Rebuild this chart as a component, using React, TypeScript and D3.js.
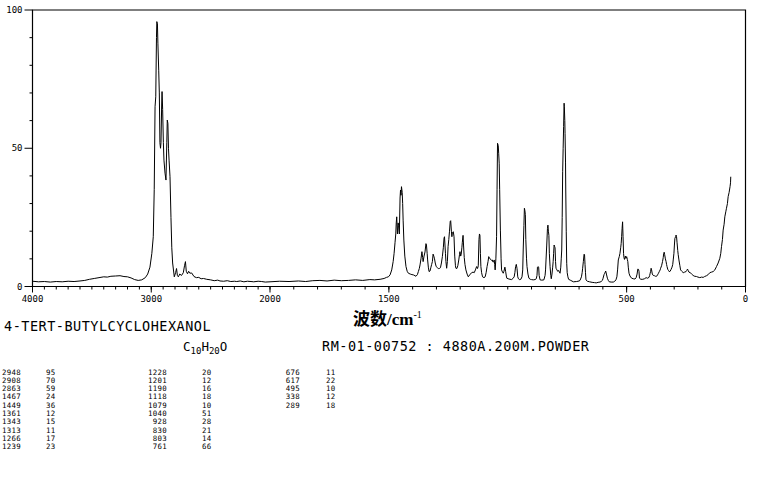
import React from 'react';
import * as d3 from 'd3';

// Spectrum trace (wavenumber cm-1, relative intensity)
const wavenumbers = [
  4000, 3950, 3900, 3850, 3800, 3750, 3700, 3650, 3600, 3560, 3520, 3480, 3440, 3400, 3370, 3340, 3300, 3263, 3230, 3200,
  3170, 3140, 3110, 3080, 3050, 3030, 3011, 2995, 2983, 2975, 2968, 2962, 2956, 2953, 2948, 2944, 2937, 2932, 2927, 2922,
  2918, 2912, 2909, 2904, 2898, 2893, 2884, 2876, 2869, 2865, 2860, 2855, 2850, 2842, 2834, 2827, 2820, 2806, 2795, 2787,
  2780, 2772, 2760, 2745, 2730, 2720, 2712, 2705, 2695, 2685, 2675, 2660, 2640, 2620, 2600, 2580, 2560, 2533, 2500, 2470,
  2440, 2421, 2390, 2360, 2330, 2300, 2280, 2250, 2220, 2190, 2160, 2137, 2100, 2070, 2040, 2000, 1960, 1920, 1880, 1850,
  1820, 1790, 1760, 1730, 1700, 1670, 1640, 1610, 1580, 1560, 1537, 1520, 1510, 1502, 1495, 1488, 1482, 1478, 1474, 1471,
  1469, 1467, 1464, 1461, 1459, 1456, 1453, 1451, 1449, 1447, 1444, 1442, 1440, 1437, 1433, 1428, 1423, 1418, 1410, 1403,
  1397, 1390, 1386, 1380, 1376, 1372, 1369, 1365, 1361, 1358, 1356, 1352, 1348, 1344, 1342, 1339, 1337, 1334, 1331, 1327,
  1323, 1320, 1317, 1314, 1311, 1308, 1305, 1301, 1296, 1292, 1288, 1283, 1279, 1275, 1271, 1268, 1266, 1264, 1262, 1260,
  1257, 1254, 1251, 1248, 1245, 1242, 1240, 1237, 1235, 1233, 1229, 1226, 1223, 1220, 1218, 1214, 1210, 1206, 1203, 1201,
  1198, 1196, 1193, 1191, 1188, 1186, 1183, 1180, 1176, 1171, 1166, 1160, 1152, 1146, 1141, 1136, 1131, 1127, 1124, 1121,
  1119, 1117, 1115, 1113, 1110, 1106, 1100, 1095, 1091, 1087, 1083, 1080, 1077, 1073, 1069, 1065, 1062, 1059, 1057, 1055,
  1053, 1050, 1047, 1045, 1043, 1040, 1038, 1036, 1034, 1031, 1028, 1026, 1022, 1019, 1016, 1012, 1009, 1006, 1004, 995,
  984, 978, 973, 970, 967, 964, 961, 958, 955, 951, 945, 940, 937, 935, 932, 930, 928, 926, 924, 921,
  919, 915, 911, 905, 900, 893, 885, 880, 877, 875, 873, 870, 868, 864, 857, 848, 843, 841, 839, 836,
  833, 831, 829, 827, 825, 822, 819, 817, 814, 811, 809, 807, 805, 803, 801, 799, 797, 793, 790, 786,
  783, 780, 777, 775, 773, 771, 769, 767, 765, 763, 762, 760, 759, 757, 756, 754, 752, 750, 747, 744,
  735, 724, 710, 700, 696, 690, 687, 685, 682, 679, 677, 675, 673, 671, 665, 656, 645, 635, 628, 620,
  612, 607, 602, 599, 595, 592, 588, 585, 581, 577, 573, 565, 556, 550, 545, 541, 538, 535, 531, 528,
  525, 523, 521, 519, 517, 515, 513, 511, 509, 507, 505, 503, 500, 497, 495, 493, 490, 486, 479, 472,
  465, 460, 456, 453, 450, 448, 446, 440, 432, 425, 418, 412, 406, 403, 401, 399, 397, 395, 392, 388,
  383, 379, 374, 370, 366, 362, 359, 357, 353, 349, 346, 344, 342, 340, 337, 334, 332, 330, 327, 324,
  321, 317, 313, 309, 306, 304, 301, 299, 297, 294, 292, 290, 288, 285, 283, 280, 276, 273, 268, 262,
  256, 250, 247, 244, 241, 238, 233, 227, 222, 218, 213, 206, 200, 195, 192, 185, 178, 172, 164, 157,
  150, 143, 136, 129, 122, 115, 108, 104, 101, 97, 94, 90, 87, 83, 80, 76, 73, 69, 65, 63,
  62,
];
const intensities = [
  1.9, 1.7, 1.8, 1.6, 1.8, 1.7, 1.9, 1.8, 2.0, 2.2, 2.6, 2.9, 3.2, 3.5, 3.4, 3.7, 3.8, 3.9, 3.6, 3.5,
  3.1, 2.5, 2.2, 2.4, 3.2, 4.5, 7, 12, 18, 35, 65, 68.6, 90, 95.8, 95, 88, 78, 70, 52, 50,
  52, 66, 70.5, 64, 52, 45.7, 41, 38.5, 52, 60.2, 59, 50, 45.7, 39.7, 25, 14, 8.5, 3.5, 5, 6.5,
  4, 3.5, 4.5, 4, 5, 7.5, 9, 5.5, 4.6, 5.5, 4.8, 4.9, 3.6, 3.2, 3.3, 2.8, 2.9, 2.6, 2.4, 2.1,
  2.3, 2.0, 1.9, 2.1, 1.8, 1.9, 1.8, 2.0, 1.7, 1.9, 1.8, 1.7, 1.9, 1.8, 1.6, 1.7, 1.9, 1.8, 2.0, 1.8,
  2.1, 2.2, 2.0, 2.3, 2.1, 2.2, 2.4, 2.2, 2.5, 2.4, 2.6, 2.9, 3.3, 3.5, 4.2, 6, 9, 12, 16, 19,
  23, 25.2, 19, 23, 22, 19, 32, 34.9, 33, 36.1, 34, 30, 24, 16.8, 11, 7.2, 5.5, 4.8, 4.5, 4.3,
  4.2, 3.9, 3.7, 4.3, 5.4, 6.5, 7.8, 10, 12.6, 10.5, 9, 11, 12.5, 15.5, 15, 12, 9.6, 7, 5.4, 5.6,
  7, 8, 9, 11.7, 11, 10, 8.5, 7.2, 6.8, 6.5, 6.5, 6.8, 8.5, 10.8, 14, 17.5, 18, 15, 12, 9,
  6.6, 9, 14.4, 17, 20, 23.5, 23.8, 20, 18, 19.5, 19.8, 18, 11, 7.5, 6.6, 6.5, 7.5, 9.6, 11.5, 12.6,
  11, 11.5, 14, 16, 18.5, 15, 10.5, 8, 6, 4.5, 3.5, 4.2, 5, 5.2, 5, 6, 7.2, 6.5, 7.5, 17,
  19, 18.5, 12, 7.2, 5, 3.5, 3.2, 3.5, 5, 7.2, 9, 10.8, 10.4, 9.8, 9.5, 9.6, 8.8, 9, 9.6, 8,
  6, 10, 18, 35, 51.8, 51, 48, 44.6, 35, 20.4, 10, 6, 5.2, 4.8, 5.5, 7, 5.5, 3.8, 3, 2.7,
  2.5, 2.9, 3.5, 5, 7.2, 8, 6.5, 3.5, 2.8, 2.5, 2.6, 3.5, 6, 13.2, 22, 28.3, 27.5, 26, 17, 10,
  7.2, 4.5, 3, 2.6, 2.5, 2.4, 2.5, 2.8, 4, 7, 7.2, 7, 4, 2.4, 2.3, 2.4, 4, 6, 9.6, 15,
  21, 22.2, 20, 18.5, 12, 7.2, 4, 2.8, 4.5, 7, 9, 12, 15, 14.5, 14, 9, 6.6, 6, 5.5, 5.8,
  5.2, 4.8, 7, 10, 13.2, 25, 41.5, 50, 57.8, 66.3, 65, 60, 55.4, 45, 34.9, 20, 8.4, 5, 3.5, 2.6,
  2.2, 1.7, 1.8, 2.0, 2.2, 3.5, 5, 6.6, 9, 11.7, 11.5, 8, 5, 2.4, 1.9, 1.7, 1.5, 1.4, 1.3, 1.5,
  1.6, 1.8, 2.2, 3, 4.3, 4.8, 5.6, 4.5, 3, 2.2, 1.7, 1.6, 1.6, 1.9, 2.4, 3.5, 6, 9.6, 10.8, 12,
  14, 15.5, 18, 21, 23.4, 18, 12, 10.4, 9.8, 10.5, 11, 10.2, 10.8, 9.8, 9, 7, 4.8, 3.8, 3, 2.8,
  2.7, 3.2, 4.5, 6.3, 6.2, 5.5, 3, 2.6, 2.6, 2.8, 3.2, 3, 3.3, 4, 4.8, 5.5, 6.6, 6, 4.5, 4,
  3.9, 3.7, 3.7, 4.2, 4.8, 5.5, 6, 6.6, 7.5, 9, 10.5, 12, 12.4, 11.5, 10, 9, 8, 7.2, 6.2, 5.8,
  5.4, 5.5, 6.2, 7, 8, 9.6, 12, 15, 17.4, 18, 18.6, 18, 16, 13, 11.5, 9.6, 7.5, 6, 5.5, 5,
  5.2, 5.4, 5.8, 6.3, 5.8, 5.2, 5, 4.6, 4.2, 3.8, 3.7, 3.6, 3.4, 3.3, 3.2, 3.4, 3.3, 3.6, 3.9, 4.3,
  5, 5.2, 5.4, 6, 7.2, 8.5, 10.2, 12, 14.4, 17, 20.4, 22.5, 25.2, 27, 28.3, 30, 32.5, 34, 36.1, 37.5,
  39.7,
];

// Axis ticks
const yMinorTicks = [0, 10, 20, 30, 40, 50, 60, 70, 80, 90, 100];
const yLabelTicks = [0, 50, 100];
const xMajorTicks = [4000, 3000, 2000, 1500, 500, 0];
const xMinorTicks = [
  4000, 3900, 3800, 3700, 3600, 3500, 3400, 3300, 3200, 3100, 3000, 2900, 2800, 2700, 2600, 2500, 2400, 2300, 2200, 2100,
  2000, 1900, 1800, 1700, 1600, 1500, 1400, 1300, 1200, 1100, 1000, 900, 800, 700, 600, 500, 400, 300, 200, 100, 0,
];

// Texts
const compoundName = '4-TERT-BUTYLCYCLOHEXANOL';
const sampleInfo = 'RM-01-00752 : 4880A.200M.POWDER';

// Peak table
const peakCol1Wn = [2948, 2908, 2863, 1467, 1449, 1361, 1343, 1313, 1266, 1239];
const peakCol1Int = [95, 70, 59, 24, 36, 12, 15, 11, 17, 23];
const peakCol2Wn = [1228, 1201, 1190, 1118, 1079, 1040, 928, 830, 803, 761];
const peakCol2Int = [20, 12, 16, 18, 10, 51, 28, 21, 14, 66];
const peakCol3Wn = [676, 617, 495, 338, 289];
const peakCol3Int = [11, 22, 10, 12, 18];

const W = 761;
const H = 477;
const mono = "'DejaVu Sans Mono', 'Liberation Mono', monospace";

export default function App() {
  const x = d3.scaleLinear().domain([4000, 2000, 0]).range([32.5, 270, 745.5]);
  const y = d3.scaleLinear().domain([0, 100]).range([286.5, 10]);
  const line = d3
    .line<number>()
    .x((_, i) => x(wavenumbers[i]))
    .y((d) => y(d));
  const path = line(intensities) || '';

  const rowY0 = 374.5;
  const rowStep = 8.3;
  const tableFont = 7.4;
  const tableCols = [
    { wn: peakCol1Wn, it: peakCol1Int, wx: 21, ix: 46 },
    { wn: peakCol2Wn, it: peakCol2Int, wx: 167, ix: 202 },
    { wn: peakCol3Wn, it: peakCol3Int, wx: 300, ix: 326 },
  ];

  return (
    <svg
      width={W}
      height={H}
      viewBox={`0 0 ${W} ${H}`}
      style={{ position: 'absolute', left: 0, top: 0, background: '#fff' }}
    >
      <rect x={0} y={0} width={W} height={H} fill="#fff" />
      {/* frame */}
      <path
        d={`M${x(4000)},${y(0)}V${y(100)}H${x(0)}V${y(0)}Z`}
        fill="none"
        stroke="#000"
        strokeWidth={1.2}
      />
      {/* y ticks */}
      {yMinorTicks.map((t) => (
        <line
          key={'yt' + t}
          x1={x(4000) - (yLabelTicks.includes(t) ? 8 : 3)}
          x2={x(4000)}
          y1={y(t)}
          y2={y(t)}
          stroke="#000"
          strokeWidth={1}
        />
      ))}
      {yLabelTicks.map((t) => (
        <text
          key={'yl' + t}
          x={x(4000) - 10}
          y={y(t) + 3}
          textAnchor="end"
          fontFamily={mono}
          fontSize={9}
          fill="#000"
        >
          {t}
        </text>
      ))}
      {/* x ticks */}
      {xMinorTicks.map((t) => (
        <line
          key={'xt' + t}
          x1={x(t)}
          x2={x(t)}
          y1={y(0)}
          y2={y(0) + 3}
          stroke="#000"
          strokeWidth={1}
        />
      ))}
      {xMajorTicks.map((t) => (
        <g key={'xm' + t}>
          <line x1={x(t)} x2={x(t)} y1={y(0)} y2={y(0) + 6} stroke="#000" strokeWidth={1} />
          <text
            x={x(t)}
            y={y(0) + 15}
            textAnchor="middle"
            fontFamily={mono}
            fontSize={9}
            fill="#000"
          >
            {t}
          </text>
        </g>
      ))}
      {/* spectrum */}
      <path d={path} fill="none" stroke="#000" strokeWidth={1} strokeLinejoin="round" />
      {/* axis title */}
      <text x={353} y={325} fontSize={17} fill="#000" fontFamily="'Liberation Serif', 'Noto Sans CJK SC', serif">
        <tspan fontFamily="'Noto Sans CJK SC', sans-serif" fontWeight={700}>波数</tspan>
        <tspan fontWeight={700}>/cm</tspan>
        <tspan fontSize={10} dy={-7}>-1</tspan>
      </text>
      {/* compound */}
      <text x={4} y={331} fontFamily={mono} fontSize={13.5} letterSpacing={0.5} fill="#000">
        {compoundName}
      </text>
      <text x={183} y={351} fontFamily={mono} fontSize={12.5} fill="#000">
        <tspan>C</tspan>
        <tspan fontSize={9} dy={3}>10</tspan>
        <tspan dy={-3}>H</tspan>
        <tspan fontSize={9} dy={3}>20</tspan>
        <tspan dy={-3}>O</tspan>
      </text>
      <text x={322} y={351} fontFamily={mono} fontSize={13.5} letterSpacing={0.5} fill="#000">
        {sampleInfo}
      </text>
      {/* peak table */}
      {tableCols.map((c, ci) => (
        <g key={'col' + ci}>
          {c.wn.map((w, i) => (
            <g key={'r' + ci + '-' + i}>
              <text
                x={c.wx}
                y={rowY0 + i * rowStep}
                textAnchor="end"
                fontFamily={mono}
                fontSize={tableFont}
                letterSpacing={0.3}
                fill="#000"
              >
                {w}
              </text>
              <text
                x={c.ix}
                y={rowY0 + i * rowStep}
                fontFamily={mono}
                fontSize={tableFont}
                letterSpacing={0.3}
                fill="#000"
              >
                {c.it[i]}
              </text>
            </g>
          ))}
        </g>
      ))}
    </svg>
  );
}
